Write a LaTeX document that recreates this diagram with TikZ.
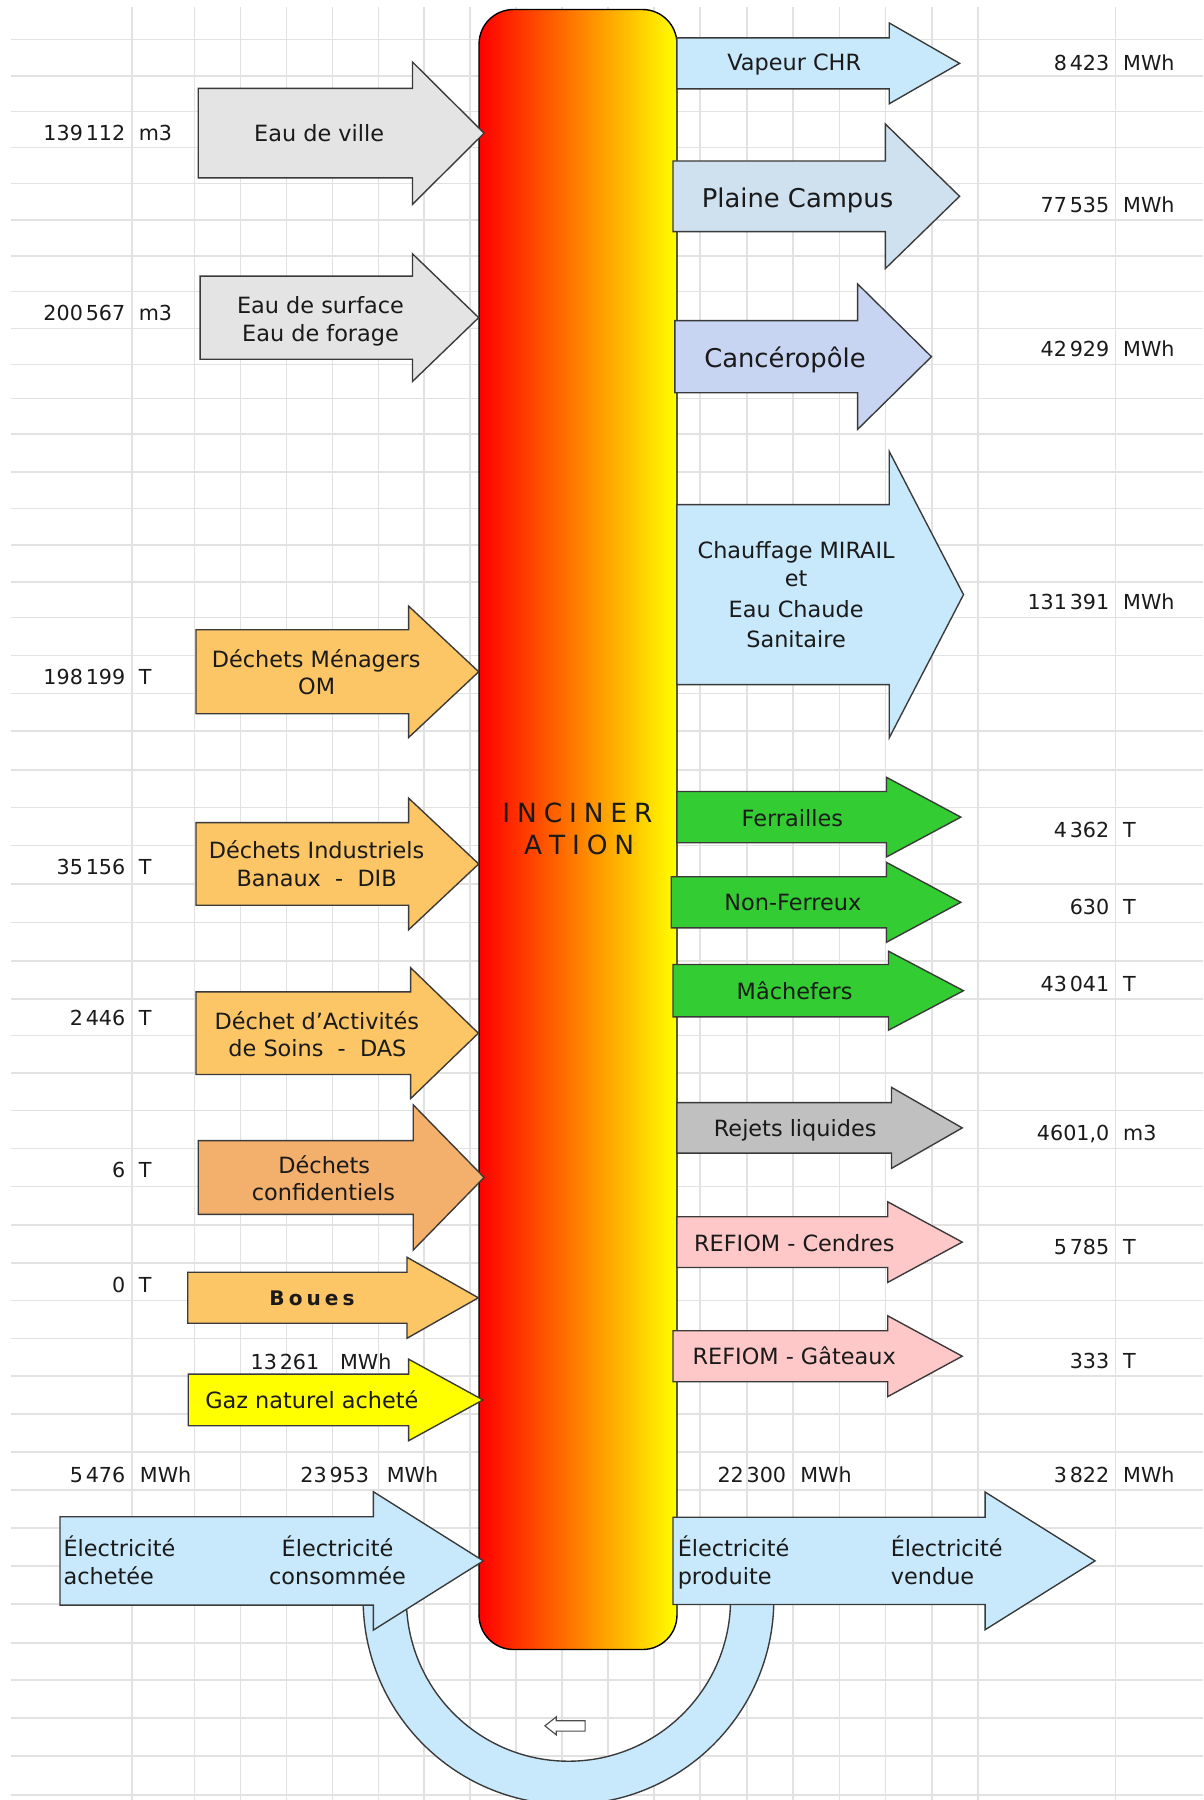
\documentclass[tikz,border=0pt]{standalone}
\usepackage{fontspec}
\setmainfont{DejaVu Sans}
\definecolor{gridc}{HTML}{E2E2E2}
\definecolor{eaugrey}{HTML}{E4E4E4}
\definecolor{lblue}{HTML}{C8E8FB}
\definecolor{pcblue}{HTML}{CFE0EF}
\definecolor{cablue}{HTML}{C7D4F2}
\definecolor{lorange}{HTML}{FCC565}
\definecolor{dorange}{HTML}{F3AF6C}
\definecolor{lgreen}{HTML}{33CC33}
\definecolor{rgrey}{HTML}{C0C0C0}
\definecolor{lpink}{HTML}{FFC8C8}
\definecolor{gyellow}{HTML}{FFFF00}
\definecolor{outl}{HTML}{3A3A3A}
\definecolor{txt}{HTML}{1A1A1A}
\newcommand\thsp{\kern2.5pt}
\newcommand\blockarr[7]{%
  \filldraw[arrowline, fill=#1] (#2,#5-#6) -- (#3,#5-#6) -- (#3,#5-#7) -- (#4,#5) -- (#3,#5+#7) -- (#3,#5+#6) -- (#2,#5+#6) -- cycle;}
\tikzset{
  arrowline/.style={draw=outl, line width=1.2pt, line join=miter},
  lbl/.style={inner sep=0pt, text height=14.2pt, text depth=0pt, font=\fontsize{19.5}{24}\selectfont, text=txt},
  big/.style={inner sep=0pt, text height=16.4pt, text depth=0pt, font=\fontsize{22.5}{27}\selectfont, text=txt},
  val/.style={inner sep=0pt, text height=13.1pt, text depth=0pt, font=\fontsize{18}{22}\selectfont, text=txt},
  inc/.style={inner sep=0pt, text height=16.8pt, text depth=0pt, font=\fontsize{23}{27}\selectfont, text=txt},
  gridline/.style={draw=gridc, line width=1.4pt},
}
\begin{document}
\begin{tikzpicture}[x=1pt,y=-1pt]
\useasboundingbox (0,0) rectangle (1048,1568);
\fill[white] (0,0) rectangle (1048,1568);
% grid
\foreach \gx in {115,169.5,209.6,249.6,289.7,329.6,369.6,409.6,449.6,489.6,529.7,569.6,610,650.5,691,731.2,771.5,811.8,852,971.6}
  \draw[gridline] (\gx,6) -- (\gx,1568);
\foreach \gy in {34.3,66.2,97.3,128.6,159.7,191.6,223,254,286,317.4,347,378,411,443,475,507,538,571,604,637,670.5,703.5,736.5,770,803.5,837,870,902,934.5,967.5,1000.5,1033.7,1067,1100,1133,1166,1198.7,1231.7,1265,1298,1331.3,1364,1397,1431,1463.4,1496.8,1529.7,1563.7}
  \draw[gridline] (10,\gy) -- (1048,\gy);
% loop band under the furnace
\filldraw[arrowline, fill=lblue] (316.3,1380) -- (316.3,1393) arc[start angle=180, end angle=0, radius=178.9] -- (674.1,1380) -- (636.4,1380) -- (636.4,1393) arc[start angle=0, end angle=180, radius=141.2] -- (354,1380) -- cycle;
\filldraw[draw=black!70, fill=white, line width=1pt] (474.7,1503.4) -- (484.5,1495.6) -- (484.5,1499) -- (509.7,1499) -- (509.7,1508) -- (484.5,1508) -- (484.5,1511.2) -- cycle;
% furnace
\node[draw=black, line width=1.2pt, rounded corners=30pt, left color=red, right color=yellow, middle color=orange, minimum width=172.4pt, minimum height=1428.6pt, inner sep=0pt] (furnace) at (503.5,722.6) {};
\node[inc] (inc1) at (503,708.5) {I\kern6pt N\kern6pt C\kern6pt I\kern6pt N\kern6pt E\kern6pt R};
\node[inc] (inc2) at (504.5,736) {A\kern6pt T\kern6pt I\kern6pt O\kern6pt N};
% input arrows
\blockarr{eaugrey}{172.7}{359.3}{421.7}{116}{39}{62}
\blockarr{eaugrey}{174.3}{359.3}{417}{276.7}{36.2}{55.6}
\blockarr{lorange}{170.7}{356}{417}{585.2}{36.6}{57.2}
\blockarr{lorange}{170.7}{356}{417}{752.6}{36}{57.3}
\blockarr{lorange}{170.7}{357.7}{416.7}{900}{36}{57}
\blockarr{dorange}{172.7}{360}{421.7}{1025.7}{32.1}{63.2}
\blockarr{lorange}{163.5}{354.5}{416.7}{1130.5}{22.2}{35.3}
\blockarr{gyellow}{164}{356}{420.7}{1219.5}{22.5}{35.5}
\blockarr{lblue}{52.3}{325.2}{421}{1359.7}{38.5}{60.3}
% output arrows
\blockarr{lblue}{589.6}{774.6}{835.9}{55.2}{22.2}{35.2}
\blockarr{pcblue}{586.3}{771.3}{835.9}{171}{30.8}{62.9}
\blockarr{cablue}{587.9}{747.1}{811.4}{310.7}{31.4}{63.3}
\blockarr{lblue}{589.6}{774.6}{839.3}{518}{78.4}{124.8}
\blockarr{lgreen}{589.6}{772.2}{837}{711.8}{22.3}{34.7}
\blockarr{lgreen}{584.7}{772.2}{837}{786}{22.3}{34.8}
\blockarr{lgreen}{586.3}{774}{839.3}{863}{22.8}{34.4}
\blockarr{rgrey}{589.6}{776.6}{838.2}{982.5}{22}{35.3}
\blockarr{lpink}{589.6}{773.3}{838.2}{1082}{22.1}{35.1}
\blockarr{lpink}{586.3}{773.3}{838.2}{1181.4}{22.2}{35.2}
\blockarr{lblue}{586.2}{858.1}{953.9}{1359.7}{38}{60}
% input labels
\node[lbl] (eauville) at (278,116.1) {Eau de ville};
\node[lbl] (eausurf1) at (279.2,265.7) {Eau de surface};
\node[lbl] (eausurf2) at (279.2,290.4) {Eau de forage};
\node[lbl] (dm1) at (275.5,574) {Déchets Ménagers};
\node[lbl] (dm2) at (275.8,598) {OM};
\node[lbl] (dib1) at (275.8,740.4) {Déchets Industriels};
\node[lbl] (dib2) at (275.8,765) {Banaux\ \ -\ \ DIB};
\node[lbl] (das1) at (275.9,889.4) {Déchet d'Activités};
\node[lbl] (das2) at (276.5,913.2) {de Soins\ \ -\ \ DAS};
\node[lbl] (conf1) at (282.5,1014.8) {Déchets};
\node[lbl] (conf2) at (281.7,1038.9) {confidentiels};
\node[inner sep=0pt, text height=12.8pt, text depth=0pt, font=\fontsize{17.5}{21}\selectfont\bfseries, text=txt] (boues) at (271.8,1131) {B\kern3.5pt o\kern3.5pt u\kern3.5pt e\kern3.5pt s};
\node[lbl] (gaz) at (271.7,1219.5) {Gaz naturel acheté};
\node[lbl, anchor=west] (elach1) at (55.2,1348.7) {Électricité};
\node[lbl, anchor=west] (elach2) at (55.2,1373.4) {achetée};
\node[lbl] (elcons1) at (294,1348.7) {Électricité};
\node[lbl] (elcons2) at (294,1373.4) {consommée};
% output labels
\node[lbl] (vapeur) at (691.8,54.6) {Vapeur CHR};
\node[big] (plaine) at (694.7,172.8) {Plaine Campus};
\node[big] (cancero) at (683.8,312) {Cancéropôle};
\node[lbl] (ch1) at (693.5,479.1) {Chauffage MIRAIL};
\node[lbl] (ch2) at (693.5,503.6) {et};
\node[lbl] (ch3) at (693.5,530.4) {Eau Chaude};
\node[lbl] (ch4) at (693.5,557.2) {Sanitaire};
\node[lbl] (ferr) at (690.2,712.8) {Ferrailles};
\node[lbl] (nonferr) at (690.7,786) {Non-Ferreux};
\node[lbl] (mache) at (692.2,863.8) {Mâchefers};
\node[lbl] (rejets) at (692.7,983) {Rejets liquides};
\node[lbl] (refc) at (691.9,1083) {REFIOM - Cendres};
\node[lbl] (refg) at (691.8,1181.8) {REFIOM - Gâteaux};
\node[lbl, anchor=west] (elprod1) at (590.2,1348.7) {Électricité};
\node[lbl, anchor=west] (elprod2) at (590.2,1373.4) {produite};
\node[lbl, anchor=west] (elvend1) at (775.8,1348.7) {Électricité};
\node[lbl, anchor=west] (elvend2) at (775.8,1373.4) {vendue};
% values left
\node[val, anchor=east] (v1n) at (109.3,116.1) {139\thsp112};
\node[val, anchor=west] (v1u) at (120.7,116.1) {m3};
\node[val, anchor=east] (v2n) at (109.3,272.9) {200\thsp567};
\node[val, anchor=west] (v2u) at (120.7,272.9) {m3};
\node[val, anchor=east] (v3n) at (109.3,589.5) {198\thsp199};
\node[val, anchor=west] (v3u) at (120.7,589.5) {T};
\node[val, anchor=east] (v4n) at (109.3,755) {35\thsp156};
\node[val, anchor=west] (v4u) at (120.7,755) {T};
\node[val, anchor=east] (v5n) at (109.3,887) {2\thsp446};
\node[val, anchor=west] (v5u) at (120.7,887) {T};
\node[val, anchor=east] (v6n) at (109.3,1019.2) {6};
\node[val, anchor=west] (v6u) at (120.7,1019.2) {T};
\node[val, anchor=east] (v7n) at (109.3,1119.3) {0};
\node[val, anchor=west] (v7u) at (120.7,1119.3) {T};
\node[val, anchor=east] (v8n) at (278.3,1186) {13\thsp261};
\node[val, anchor=west] (v8u) at (296,1186) {MWh};
\node[val, anchor=east] (v9n) at (109.3,1284.8) {5\thsp476};
\node[val, anchor=west] (v9u) at (121.7,1284.8) {MWh};
\node[val, anchor=east] (v10n) at (321.7,1284.8) {23\thsp953};
\node[val, anchor=west] (v10u) at (336.7,1284.8) {MWh};
% values right
\node[val, anchor=east] (w1n) at (966.5,54.6) {8\thsp423};
\node[val, anchor=west] (w1u) at (978.2,54.6) {MWh};
\node[val, anchor=east] (w2n) at (966.5,178.6) {77\thsp535};
\node[val, anchor=west] (w2u) at (978.2,178.6) {MWh};
\node[val, anchor=east] (w3n) at (966.5,304.3) {42\thsp929};
\node[val, anchor=west] (w3u) at (978.2,304.3) {MWh};
\node[val, anchor=east] (w4n) at (966.5,524.3) {131\thsp391};
\node[val, anchor=west] (w4u) at (978.2,524.3) {MWh};
\node[val, anchor=east] (w5n) at (966.5,723) {4\thsp362};
\node[val, anchor=west] (w5u) at (978.2,723) {T};
\node[val, anchor=east] (w6n) at (966.5,790) {630};
\node[val, anchor=west] (w6u) at (978.2,790) {T};
\node[val, anchor=east] (w7n) at (966.5,857) {43\thsp041};
\node[val, anchor=west] (w7u) at (978.2,857) {T};
\node[val, anchor=east] (w8n) at (966.5,987.2) {4601,0};
\node[val, anchor=west] (w8u) at (978.2,987.2) {m3};
\node[val, anchor=east] (w9n) at (966.5,1086) {5\thsp785};
\node[val, anchor=west] (w9u) at (978.2,1086) {T};
\node[val, anchor=east] (w10n) at (966.5,1185.5) {333};
\node[val, anchor=west] (w10u) at (978.2,1185.5) {T};
\node[val, anchor=east] (w11n) at (685,1284.8) {22\thsp300};
\node[val, anchor=west] (w11u) at (696.9,1284.8) {MWh};
\node[val, anchor=east] (w12n) at (966.5,1284.8) {3\thsp822};
\node[val, anchor=west] (w12u) at (978.2,1284.8) {MWh};
\end{tikzpicture}
\end{document}
